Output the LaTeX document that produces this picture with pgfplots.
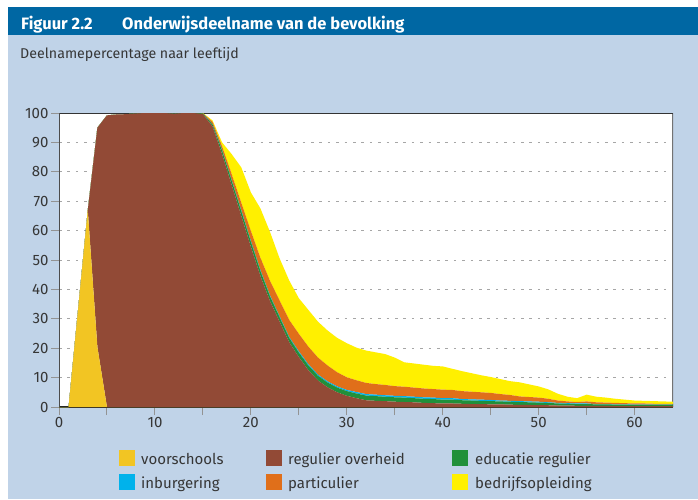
\documentclass[border=0pt]{standalone}
\usepackage{fontspec}
\setmainfont{Fira Sans}
\usepackage{pgfplots}
\usepackage{pgfplotstable}
\pgfplotsset{compat=1.18}
\definecolor{hdr}{HTML}{0067A3}
\definecolor{bgl}{HTML}{C0D3E8}
\definecolor{cvs}{HTML}{F2C523}
\definecolor{cro}{HTML}{924A36}
\definecolor{ced}{HTML}{21903A}
\definecolor{cin}{HTML}{00B2EB}
\definecolor{cpa}{HTML}{E06F1A}
\definecolor{cbe}{HTML}{FFF000}
\definecolor{txt}{HTML}{363636}

\pgfplotstableread{
a vs ro ed inb part bed
0 0 0 0 0 0 0
1 0 0 0 0 0 0
2 33.5 0 0 0 0 0
3 67 0 0 0 0 0
4 20.5 74.5 0 0 0 0
5 0 99.2 0 0 0 0
6 0 99.5 0 0 0 0
7 0 99.6 0 0 0 0
8 0 99.8 0 0 0 0
9 0 100 0 0 0 0
10 0 100 0 0 0 0
11 0 100 0 0 0 0
12 0 99.7 0 0 0 0
13 0 100 0 0 0 0
14 0 100 0 0 0 0
15 0 99.6 0.2 0 0.1 0.1
16 0 95.5 0.6 0.1 0.8 0.5
17 0 86 1.2 0.2 1.3 1.3
18 0 75.5 1.5 0.2 2.0 6.8
19 0 65 1.6 0.3 2.6 12
20 0 54.5 1.7 0.3 3.4 13.1
21 0 44.5 1.7 0.3 4.2 16.8
22 0 36 1.6 0.3 5.0 16.6
23 0 29 1.5 0.3 5.4 14.3
24 0 22 1.5 0.3 5.8 13.4
25 0 17 1.5 0.4 6.0 12.1
26 0 12.5 1.6 0.4 6.0 12.5
27 0 9 1.6 0.4 5.8 12.2
28 0 6.7 1.6 0.4 5.4 11.9
29 0 5.0 1.6 0.4 4.8 11.7
30 0 3.8 1.6 0.4 4.3 11.6
31 0 3.0 1.6 0.5 4.0 11.1
32 0 2.3 1.6 0.5 3.8 11.0
33 0 2.1 1.6 0.5 3.6 10.8
34 0 2.0 1.5 0.5 3.5 10.5
35 0 1.8 1.5 0.5 3.3 9.7
36 0 1.7 1.5 0.5 3.2 8.3
37 0 1.6 1.4 0.5 3.1 8.2
38 0 1.4 1.4 0.5 3.0 8.1
39 0 1.3 1.4 0.5 2.9 7.9
40 0 1.2 1.3 0.5 2.9 7.9
41 0 1.2 1.3 0.5 2.8 7.2
42 0 1.1 1.2 0.4 2.7 6.8
43 0 1.0 1.2 0.4 2.6 6.3
44 0 1.0 1.1 0.4 2.5 5.8
45 0 0.9 1.1 0.4 2.4 5.4
46 0 0.9 1.0 0.3 2.2 5.1
47 0 0.8 1.0 0.3 2.0 4.7
48 0 0.7 1.0 0.3 1.6 4.8
49 0 0.7 0.9 0.3 1.5 4.3
50 0 0.6 0.9 0.3 1.4 3.8
51 0 0.6 0.8 0.2 1.2 3.2
52 0 0.5 0.7 0.2 0.8 2.3
53 0 0.5 0.6 0.2 0.6 1.6
54 0 0.4 0.6 0.2 0.5 1.3
55 0 0.4 0.6 0.2 0.7 2.3
56 0 0.4 0.5 0.1 0.6 1.9
57 0 0.4 0.5 0.1 0.5 1.7
58 0 0.3 0.5 0.1 0.5 1.4
59 0 0.3 0.5 0.1 0.4 1.2
60 0 0.3 0.4 0.1 0.4 1.0
61 0 0.3 0.4 0.1 0.4 0.9
62 0 0.3 0.4 0.1 0.3 0.9
63 0 0.3 0.4 0.1 0.3 0.8
64 0 0.3 0.4 0.1 0.3 0.7
}\data

\begin{document}
\begin{tikzpicture}[x=1pt,y=1pt]
\fill[white] (0,0) rectangle (698,499);
\fill[bgl] (8,0) rectangle (698,464);
\fill[hdr] (8,464) rectangle (698,492);
\node[anchor=base west, inner sep=0pt, text=white, font=\fontsize{16.5}{20}\selectfont\bfseries] at (21,469) {Figuur 2.2};
\node[anchor=base west, inner sep=0pt, text=white, font=\fontsize{16.5}{20}\selectfont\bfseries] at (122,469) {Onderwijsdeelname van de bevolking};
\node[anchor=base west, inner sep=0pt, text=txt, font=\fontsize{14.2}{17}\selectfont] at (20,440) {Deelnamepercentage naar leeftijd};

\begin{axis}[
  at={(59pt,92pt)}, anchor=south west,
  scale only axis, width=614pt, height=294pt,
  xmin=0, xmax=64, ymin=0, ymax=100,
  enlargelimits=false,
  stack plots=y,
  axis line style={draw=none},
  xtick={0,5,...,60},
  xticklabels={0,,10,,20,,30,,40,,50,,60},
  ytick={0,10,...,100},
  xtick pos=bottom, ytick pos=left,
  tick align=outside,
  major tick length=8pt,
  tick style={draw=gray!85, line width=1pt},
  ymajorgrids,
  grid style={draw=gray!70, line width=0.8pt, dash pattern=on 2.5pt off 5.9pt},
  /pgf/number format/assume math mode=true,
  ticklabel style={font=\fontsize{15}{18}\selectfont, text=txt},
  yticklabel style={xshift=1pt},
  xticklabel style={yshift=1pt},
  axis background/.style={fill=white},
]
\addplot[fill=cvs, draw=none] table[x=a, y=vs] {\data} \closedcycle;
\addplot[fill=cro, draw=none] table[x=a, y=ro] {\data} \closedcycle;
\addplot[fill=ced, draw=none] table[x=a, y=ed] {\data} \closedcycle;
\addplot[fill=cin, draw=none] table[x=a, y=inb] {\data} \closedcycle;
\addplot[fill=cpa, draw=none] table[x=a, y=part] {\data} \closedcycle;
\addplot[fill=cbe, draw=none] table[x=a, y=bed] {\data} \closedcycle;
\draw[gray!60!black, line width=1.2pt] (rel axis cs:0,0) -- (rel axis cs:0,1);
\draw[black!80, line width=1.5pt] (rel axis cs:0,1) -- (rel axis cs:1,1);
\draw[gray!90!black, line width=2pt] (rel axis cs:1,1) -- (rel axis cs:1,0);
\draw[black!85, line width=1.6pt] (rel axis cs:0,0) -- (rel axis cs:1,0);
\end{axis}

% legend
\fill[cvs] (119,33) rectangle (135,49);
\fill[cro] (266,33) rectangle (282,49);
\fill[ced] (452,33) rectangle (468,49);
\fill[cin] (119,9) rectangle (135,25);
\fill[cpa] (266,9) rectangle (282,25);
\fill[cbe] (452,9) rectangle (468,25);
\begin{scope}[every node/.style={anchor=base west, inner sep=0pt, text=txt, font=\fontsize{15}{18}\selectfont}]
\node at (141,35) {voorschools};
\node at (288,35) {regulier overheid};
\node at (475,35) {educatie regulier};
\node at (141,11) {inburgering};
\node at (288,11) {particulier};
\node at (475,11) {bedrijfsopleiding};
\end{scope}
\end{tikzpicture}
\end{document}
